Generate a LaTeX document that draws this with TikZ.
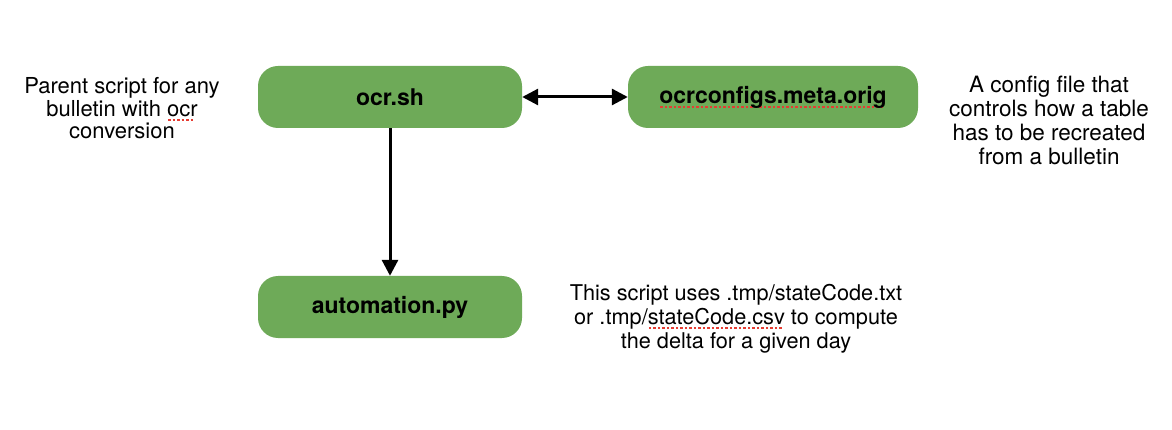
\documentclass[tikz,border=0pt]{standalone}
\usepackage{fontspec}
\setmainfont{TeX Gyre Heros}
\usetikzlibrary{arrows.meta}
\definecolor{boxgreen}{RGB}{110,170,88}
\definecolor{spellred}{RGB}{230,60,50}
\newcommand\spellerr[1]{\setbox0\hbox{#1}\rlap{\raisebox{-4.5pt}{\color{spellred}\leaders\hbox to 4.5pt{\hss\rule{2.6pt}{2pt}\hss}\hskip\wd0}}\box0\relax}
\tikzset{
  procbox/.style={draw=none, fill=boxgreen, rounded corners=20pt, minimum width=264pt, minimum height=62pt, inner sep=0pt, font=\fontsize{23}{27}\selectfont\bfseries},
  note/.style={align=center, inner sep=0pt}
}
\tikzset{
  conn/.style={line width=3pt, -{Triangle[length=16pt,width=16pt]}},
  conn2/.style={line width=3pt, {Triangle[length=16pt,width=16pt]}-{Triangle[length=16pt,width=16pt]}}
}
\begin{document}
\begin{tikzpicture}[x=1pt,y=-1pt]
\useasboundingbox (0,0) rectangle (1172,430);
\node[procbox] (ocr) at (390,97) {ocr.sh};
\node[procbox, minimum width=290pt] (cfg) at (773,97) {\spellerr{ocrconfigs.meta.orig}};
\node[procbox] (auto) at (390,307) {automation.py};
\node[note, font=\fontsize{22}{22.5}\selectfont] (lnote) at (122,108.5) {Parent script for any\\bulletin with \spellerr{ocr}\\conversion};
\node[note, font=\fontsize{22.5}{24}\selectfont] (rnote) at (1049,120.5) {A config file that\\controls how a table\\has to be recreated\\from a bulletin};
\node[note, font=\fontsize{21.7}{24}\selectfont] (bnote) at (736,319) {This script uses .tmp/stateCode.txt\\or .tmp/\spellerr{stateCode.csv} to compute\\the delta for a given day};
\draw[conn2] (ocr) -- (cfg);
\draw[conn] (ocr) -- (auto);
\end{tikzpicture}
\end{document}
